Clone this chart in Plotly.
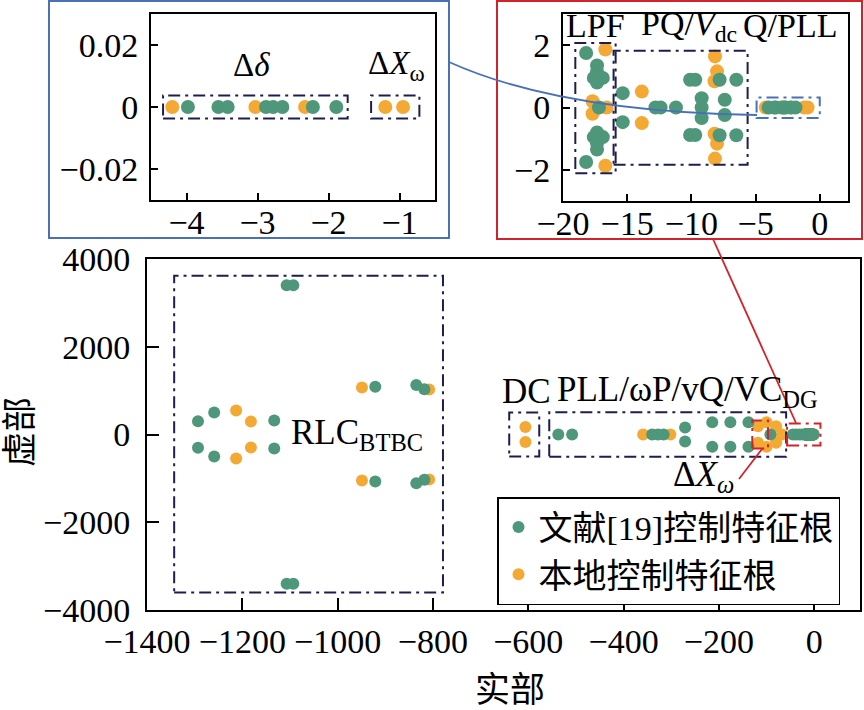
import plotly.graph_objects as go

# ---------------- data (eigenvalues: real part, imaginary part) ----------------
# 文献[19]控制特征根 (green)
green_re = [-1107, -1093, -1107, -1093,
            -1293, -1293, -1259, -1259, -1133, -1133,
            -921, -921, -835, -835, -818, -818,
            -537, -508, -340, -328, -316, -271, -271,
            -214, -176, -138, -214, -176, -138, -92,
            -45, -38, -31, -25,
            -18.2, -18.2,
            -17.35, -17.35, -17.6, -16.9, -17.35,
            -17.35, -17.35, -17.6, -16.9, -17.35,
            -17.2, -15.35, -15.35, -12.8, -12.4, -11.2,
            -10.1, -9.7, -10.1, -9.7, -9.2, -9.2, -9.2,
            -7.8, -6.5, -7.8, -6.5, -7.4, -7.4,
            -3.98, -3.55, -3.42, -2.88, -2.78, -2.65, -2.22, -1.89]
green_im = [3400, 3400, -3400, -3400,
            300, -300, 500, -500, 320, -320,
            1090, -1070, 1130, -1110, 1030, -1030,
            0, 0, 0, 0, 0, 160, -160,
            280, 280, 280, -280, -280, -280, 0,
            0, 0, 0, 0,
            1.75, -1.75,
            1.35, 1.15, 0.95, 0.95, 0.8,
            -1.35, -1.15, -0.95, -0.95, -0.8,
            0, 0.46, -0.47, 0, 0, 0,
            0.89, 0.89, -0.88, -0.88, 0.3, 0, -0.34,
            0.89, 0.89, -0.89, -0.89, 0.25, -0.24,
            0, 0, 0, 0, 0, 0, 0, 0]

# 本地控制特征根 (orange)
orange_re = [-1213, -1213, -1182, -1182, -949, -949, -808, -808,
             -606, -606, -359, -302,
             -118, -118, -100, -100, -80, -80, -68,
             -16.7, -16.7, -17.7, -17.7, -16.6, -13.86, -13.86,
             -8.16, -8.0, -8.2, -8.16, -8.0, -8.2,
             -4.2, -3.03, -2.33, -1.2, -0.95]
orange_im = [547, -547, 296, -296, 1071, -1048, 1025, -1025,
             170, -170, 0, 0,
             190, -190, 280, -280, 190, -190, 0,
             1.86, -1.87, 0.2, -0.2, 0, 0.51, -0.5,
             1.64, 1.16, 0.84, -1.64, -1.16, -0.84,
             0, 0, 0, 0, 0]

series_names = ["文献[19]控制特征根", "本地控制特征根"]

main_xticks = [-1400, -1200, -1000, -800, -600, -400, -200, 0]
main_yticks = [-4000, -2000, 0, 2000, 4000]
in1_xticks = [-4, -3, -2, -1]
in1_yticks = [-0.02, 0, 0.02]
in2_xticks = [-20, -15, -10, -5, 0]
in2_yticks = [-2, 0, 2]

# ---------------- styling ----------------
GREEN = "#4e977b"
ORANGE = "#f4a935"
NAVY = "#1e1e4e"
BLUE = "#4a70b8"
RED = "#d2232a"
FONT = "Liberation Serif, Noto Sans CJK SC"
FS = 35
TFS = 34
W, H = 864, 710
DASHDOT = "12px,5px,3px,5px"


def px(x):
    return x / W


def py(y):
    return 1 - y / H


fig = go.Figure()

axes = [("x", "y", 12), ("x2", "y2", 14), ("x3", "y3", 14)]
for i, (xa, ya, ms) in enumerate(axes):
    # orange first so green sits on top
    fig.add_trace(go.Scatter(x=orange_re, y=orange_im, mode="markers", xaxis=xa, yaxis=ya,
                             marker=dict(color=ORANGE, size=ms), name=series_names[1],
                             legendrank=2, showlegend=(i == 0)))
    fig.add_trace(go.Scatter(x=green_re, y=green_im, mode="markers", xaxis=xa, yaxis=ya,
                             marker=dict(color=GREEN, size=ms), name=series_names[0],
                             legendrank=1, showlegend=(i == 0)))

axis_common = dict(showgrid=False, zeroline=False, showline=True, mirror=True,
                   linecolor="black", linewidth=2, ticks="inside", tickcolor="black",
                   tickwidth=1.5, tickfont=dict(family=FONT, size=TFS, color="black"),
                   automargin=False)

fig.update_layout(
    width=W, height=H, margin=dict(l=0, r=0, t=0, b=0),
    paper_bgcolor="white", plot_bgcolor="white",
    font=dict(family=FONT, size=FS, color="black"),
    xaxis=dict(domain=[px(147), px(860)], range=[-1400, 96], tickvals=main_xticks,
               ticklen=12, anchor="y", **axis_common),
    yaxis=dict(domain=[py(610), py(259)], range=[-4000, 4000], tickvals=main_yticks,
               ticklen=12, anchor="x", ticklabelstandoff=8, **axis_common),
    xaxis2=dict(domain=[px(151), px(435)], range=[-4.5, -0.5], tickvals=in1_xticks,
                ticklen=7, anchor="y2", ticklabelstandoff=-9, **axis_common),
    yaxis2=dict(domain=[py(200), py(14)], range=[-0.03, 0.03], tickvals=in1_yticks,
                ticklen=7, anchor="x2", ticklabelstandoff=4, **axis_common),
    xaxis3=dict(domain=[px(563), px(848)], range=[-20, 2.2], tickvals=in2_xticks,
                ticklen=7, anchor="y3", ticklabelstandoff=-9, **axis_common),
    yaxis3=dict(domain=[py(201), py(14)], range=[-3, 3], tickvals=in2_yticks,
                ticklen=7, anchor="x3", ticklabelstandoff=4, **axis_common),
    legend=dict(x=px(497), y=py(497), xanchor="left", yanchor="top",
                bordercolor="black", borderwidth=1.5, bgcolor="white",
                font=dict(family=FONT, size=34, color="black"),
                itemsizing="constant", tracegroupgap=0),
    showlegend=True,
)

# ---------------- region boxes ----------------
def box(xr, yr, x0, x1, y0, y1, color=NAVY):
    fig.add_shape(type="rect", xref=xr, yref=yr, x0=x0, x1=x1, y0=y0, y1=y1,
                  line=dict(color=color, width=2, dash=DASHDOT), layer="above")

box("x", "y", -1343, -779, -3600, 3620)
box("x", "y", -640, -577, -500, 500)
box("x", "y", -556, -59, -505, 505)
box("x", "y", -130, -97, -320, 320, RED)
box("x", "y", -57, 13, -250, 250, RED)

box("x2", "y2", -4.33, -1.73, -0.0037, 0.0037)
box("x2", "y2", -1.40, -0.72, -0.0037, 0.0037)

box("x3", "y3", -19.04, -15.9, -2.11, 2.07)
box("x3", "y3", -16.06, -5.62, -1.84, 1.82)
box("x3", "y3", -4.92, 0.0, -0.34, 0.32, BLUE)

# inset frames
fig.add_shape(type="rect", xref="paper", yref="paper", x0=px(49), x1=px(449), y0=py(238), y1=py(1),
              line=dict(color=BLUE, width=2))
fig.add_shape(type="rect", xref="paper", yref="paper", x0=px(497), x1=px(862), y0=py(239), y1=py(1),
              line=dict(color=RED, width=2))

# connectors
fig.add_shape(type="path", xref="paper", yref="paper",
              path=f"M {px(449)},{py(62)} Q {px(560)},{py(112)} {px(757)},{py(115)}",
              line=dict(color=BLUE, width=1.8))
fig.add_shape(type="line", xref="paper", yref="paper", x0=px(713), y0=py(239), x1=px(796), y1=py(423),
              line=dict(color=RED, width=1.8))
fig.add_shape(type="line", xref="paper", yref="paper", x0=px(762), y0=py(449), x1=px(739), y1=py(479),
              line=dict(color=RED, width=1.8))

# ---------------- labels ----------------
def label(xr, yr, x, y, text, xanchor="left", size=FS):
    fig.add_annotation(xref=xr, yref=yr, x=x, y=y, text=text, showarrow=False,
                       xanchor=xanchor, yanchor="middle",
                       font=dict(family=FONT, size=size, color="black"))

label("x", "y", -1103, 0, "RLC<sub>BTBC</sub>")
label("x", "y", -660, 990, "DC")
label("x", "y", -545, 990, "PLL/ωP/vQ/VC<sub>DG</sub>")
label("x", "y", -300, -950, "Δ<i>X</i><sub><i>ω</i></sub>")

label("x2", "y2", -3.38, 0.0135, "Δ<i>δ</i>", size=33)
label("x2", "y2", -1.47, 0.0135, "Δ<i>X</i><sub>ω</sub>", size=33)

label("x3", "y3", -19.9, 2.62, "LPF", size=34)
label("x3", "y3", -14.1, 2.62, "PQ/<i>V</i><sub>dc</sub>", size=34)
label("x3", "y3", -6.1, 2.62, "Q/PLL", size=34)

# axis titles
fig.add_annotation(xref="paper", yref="paper", x=px(20), y=py(432), text="虚部", showarrow=False,
                   textangle=-90, xanchor="center", yanchor="middle",
                   font=dict(family=FONT, size=FS, color="black"))
fig.add_annotation(xref="paper", yref="paper", x=px(510), y=py(690), text="实部", showarrow=False,
                   xanchor="center", yanchor="middle",
                   font=dict(family=FONT, size=FS, color="black"))

fig.write_html("out.html", config={"displayModeBar": False},
               post_script="document.body.style.margin='0';document.body.style.overflow='hidden';")
